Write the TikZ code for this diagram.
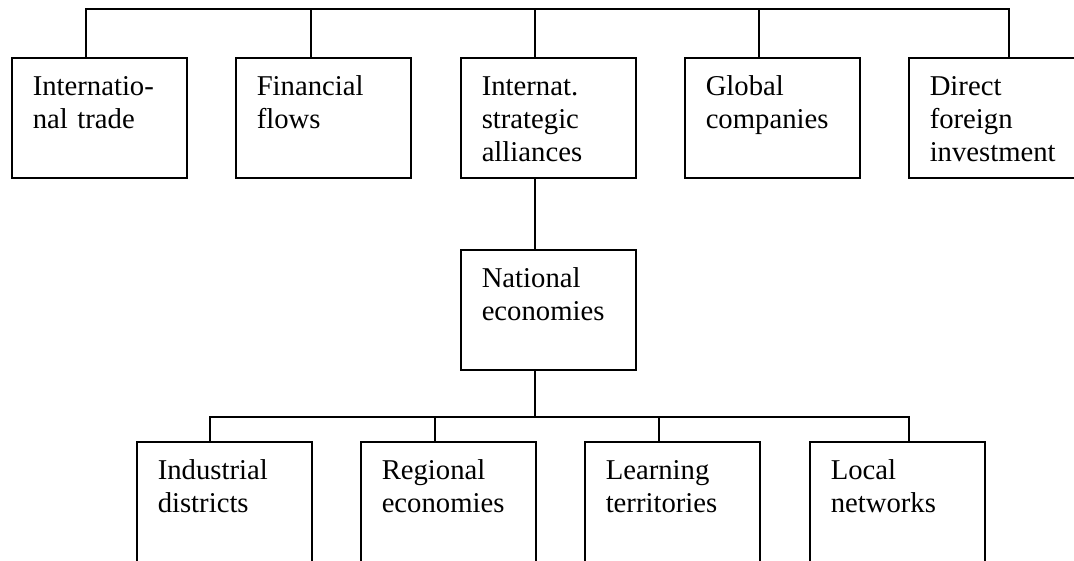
\documentclass[tikz,border=0pt]{standalone}
\usepackage{fontspec}
\setmainfont{Liberation Serif}
\begin{document}
\begin{tikzpicture}
[x=1pt,y=-1pt,
 boxdecorate/.style={draw,line width=1.5pt,anchor=north west,align=left,
   text width=133pt,inner xsep=21pt,inner ysep=0pt,text height=38pt,text depth=82pt,
   font=\fontsize{28.7}{33}\selectfont},
 linedecorate/.style={line width=1.5pt}]
\useasboundingbox (0,0) rectangle (1074,560);
\clip (0,0) rectangle (1074,560);
%% global level
\foreach \name/\x/\txt in {trade/11/{Internatio-\\nal trade}, flows/235/{Financial\\flows},
  alliances/460/{Internat.\\strategic\\alliances}, companies/684/{Global\\companies},
  investment/908/{Direct\\foreign\\investment}}
{
  \node[boxdecorate] (\name) at (\x,57) {\txt};
}
%% national level
\node[boxdecorate] (national) at (460,249) {National\\economies};
%% local level
\foreach \name/\x/\txt in {districts/136/{Industrial\\districts}, regional/360/{Regional\\economies},
  learning/584/{Learning\\territories}, networks/809/{Local\\networks}}
{
  \node[boxdecorate] (\name) at (\x,441) {\txt};
}
%% draw the links
\coordinate (topbar) at (535,9);
\coordinate (botbar) at (535,417);
\foreach \name/\dx in {trade/75, flows/76, alliances/75, companies/75, investment/101}
{
  \draw[linedecorate] ([xshift=\dx pt]\name.north west) |- (topbar);
}
\draw[linedecorate] ([xshift=75pt]alliances.south west) -- ([xshift=75pt]national.north west);
\draw[linedecorate] ([xshift=75pt]national.south west) -- (botbar);
\foreach \name/\dx in {districts/74, regional/75, learning/75, networks/100}
{
  \draw[linedecorate] ([xshift=\dx pt]\name.north west) |- (botbar);
}
\end{tikzpicture}
\end{document}
